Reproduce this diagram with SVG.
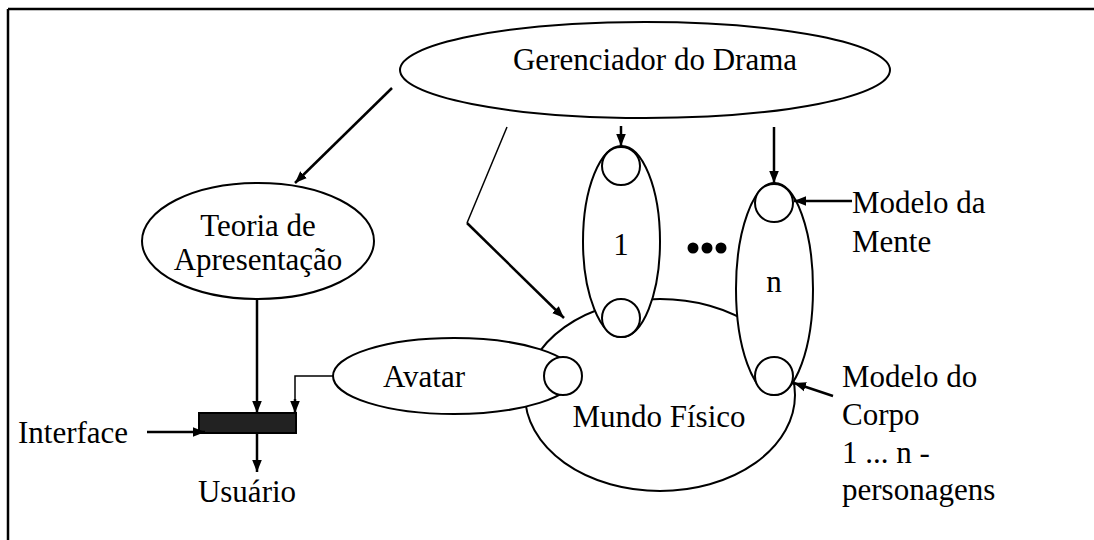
<svg xmlns="http://www.w3.org/2000/svg" width="1094" height="540" viewBox="0 0 1094 540">
<defs>
<marker id="ah" viewBox="0 0 10 10" refX="10" refY="5" markerWidth="5" markerHeight="5" markerUnits="userSpaceOnUse" orient="auto">
<path d="M0,0 L10,5 L0,10 z" fill="#000"/>
</marker>
<marker id="ah2" viewBox="0 0 10 10" refX="10" refY="5" markerWidth="12" markerHeight="12" markerUnits="userSpaceOnUse" orient="auto">
<path d="M0,1 L10,5 L0,9 z" fill="#000"/>
</marker>
</defs>
<style>
.s{fill:#fff;stroke:#000;stroke-width:2}
.t{font-family:"Liberation Serif","Times New Roman",serif;font-size:31px;fill:#000}
.c{stroke:#000;stroke-width:2.5;fill:none}
.thin{stroke:#000;stroke-width:1.5;fill:none}
</style>
<rect width="1094" height="540" fill="#fff"/>
<line x1="8" y1="9" x2="1094" y2="9" stroke="#000" stroke-width="2.5"/>
<line x1="8" y1="9" x2="8" y2="540" stroke="#000" stroke-width="2.5"/>

<g id="gerenciador">
<ellipse class="s" cx="645" cy="70" rx="245" ry="48"/>
<text class="t" x="655" y="70" text-anchor="middle">Gerenciador do Drama</text>
</g>

<g id="teoria">
<ellipse class="s" cx="258" cy="241" rx="116" ry="58"/>
<text class="t" x="258" y="236" text-anchor="middle">Teoria de</text>
<text class="t" x="258" y="270" text-anchor="middle">Apresentação</text>
</g>

<g id="mundo">
<ellipse class="s" cx="660" cy="395" rx="135" ry="96"/>
<text class="t" x="659" y="427" text-anchor="middle">Mundo Físico</text>
</g>

<g id="avatar">
<ellipse class="s" cx="454" cy="376" rx="121" ry="38"/>
<text class="t" x="424" y="387" text-anchor="middle">Avatar</text>
<circle class="s" cx="563" cy="376" r="19"/>
</g>

<g id="personagem1">
<ellipse class="s" cx="621.5" cy="241.5" rx="38.5" ry="95.5"/>
<circle class="s" cx="621" cy="166" r="19"/>
<circle class="s" cx="621" cy="318" r="19"/>
<text class="t" x="621" y="255" text-anchor="middle">1</text>
</g>

<g id="dots">
<circle cx="693" cy="248" r="5.5" fill="#000"/>
<circle cx="707" cy="248" r="5.5" fill="#000"/>
<circle cx="721" cy="248" r="5.5" fill="#000"/>
</g>

<g id="personagemN">
<ellipse class="s" cx="774.5" cy="289" rx="38.5" ry="106"/>
<circle class="s" cx="774" cy="203" r="19"/>
<circle class="s" cx="774" cy="376" r="19"/>
<text class="t" x="774" y="292" text-anchor="middle">n</text>
</g>

<g id="interface">
<rect x="199" y="413" width="97" height="20" fill="#222" stroke="#000" stroke-width="2"/>
<text class="t" x="18" y="443">Interface</text>
</g>

<g id="usuario">
<text class="t" x="247" y="502" text-anchor="middle">Usuário</text>
</g>

<g id="modeloMente">
<text class="t" x="852" y="213">Modelo da</text>
<text class="t" x="852" y="252">Mente</text>
</g>

<g id="modeloCorpo">
<text class="t" x="842" y="387">Modelo do</text>
<text class="t" x="842" y="425">Corpo</text>
<text class="t" x="842" y="463">1 ... n -</text>
<text class="t" x="842" y="500">personagens</text>
</g>

<g id="connectors">
<line class="c" x1="392" y1="88" x2="295" y2="183" marker-end="url(#ah2)"/>
<line class="thin" x1="507" y1="127" x2="467" y2="223"/>
<line class="c" x1="467" y1="223" x2="564" y2="318" marker-end="url(#ah2)"/>
<line class="c" x1="621" y1="126" x2="621" y2="146" marker-end="url(#ah2)"/>
<line class="c" x1="774" y1="127" x2="774" y2="183" marker-end="url(#ah2)"/>
<line class="c" x1="852" y1="201" x2="794" y2="201" marker-end="url(#ah2)"/>
<line class="c" x1="833" y1="396" x2="794" y2="383" marker-end="url(#ah2)"/>
<line class="c" x1="257" y1="299" x2="257" y2="413" marker-end="url(#ah2)"/>
<polyline class="thin" points="333,376 295,376 295,400"/>
<line class="c" x1="295" y1="399" x2="295" y2="413" marker-end="url(#ah2)"/>
<line class="c" x1="147" y1="432" x2="205" y2="432" marker-end="url(#ah2)"/>
<line class="c" x1="257" y1="433" x2="257" y2="472" marker-end="url(#ah2)"/>
</g>
</svg>
